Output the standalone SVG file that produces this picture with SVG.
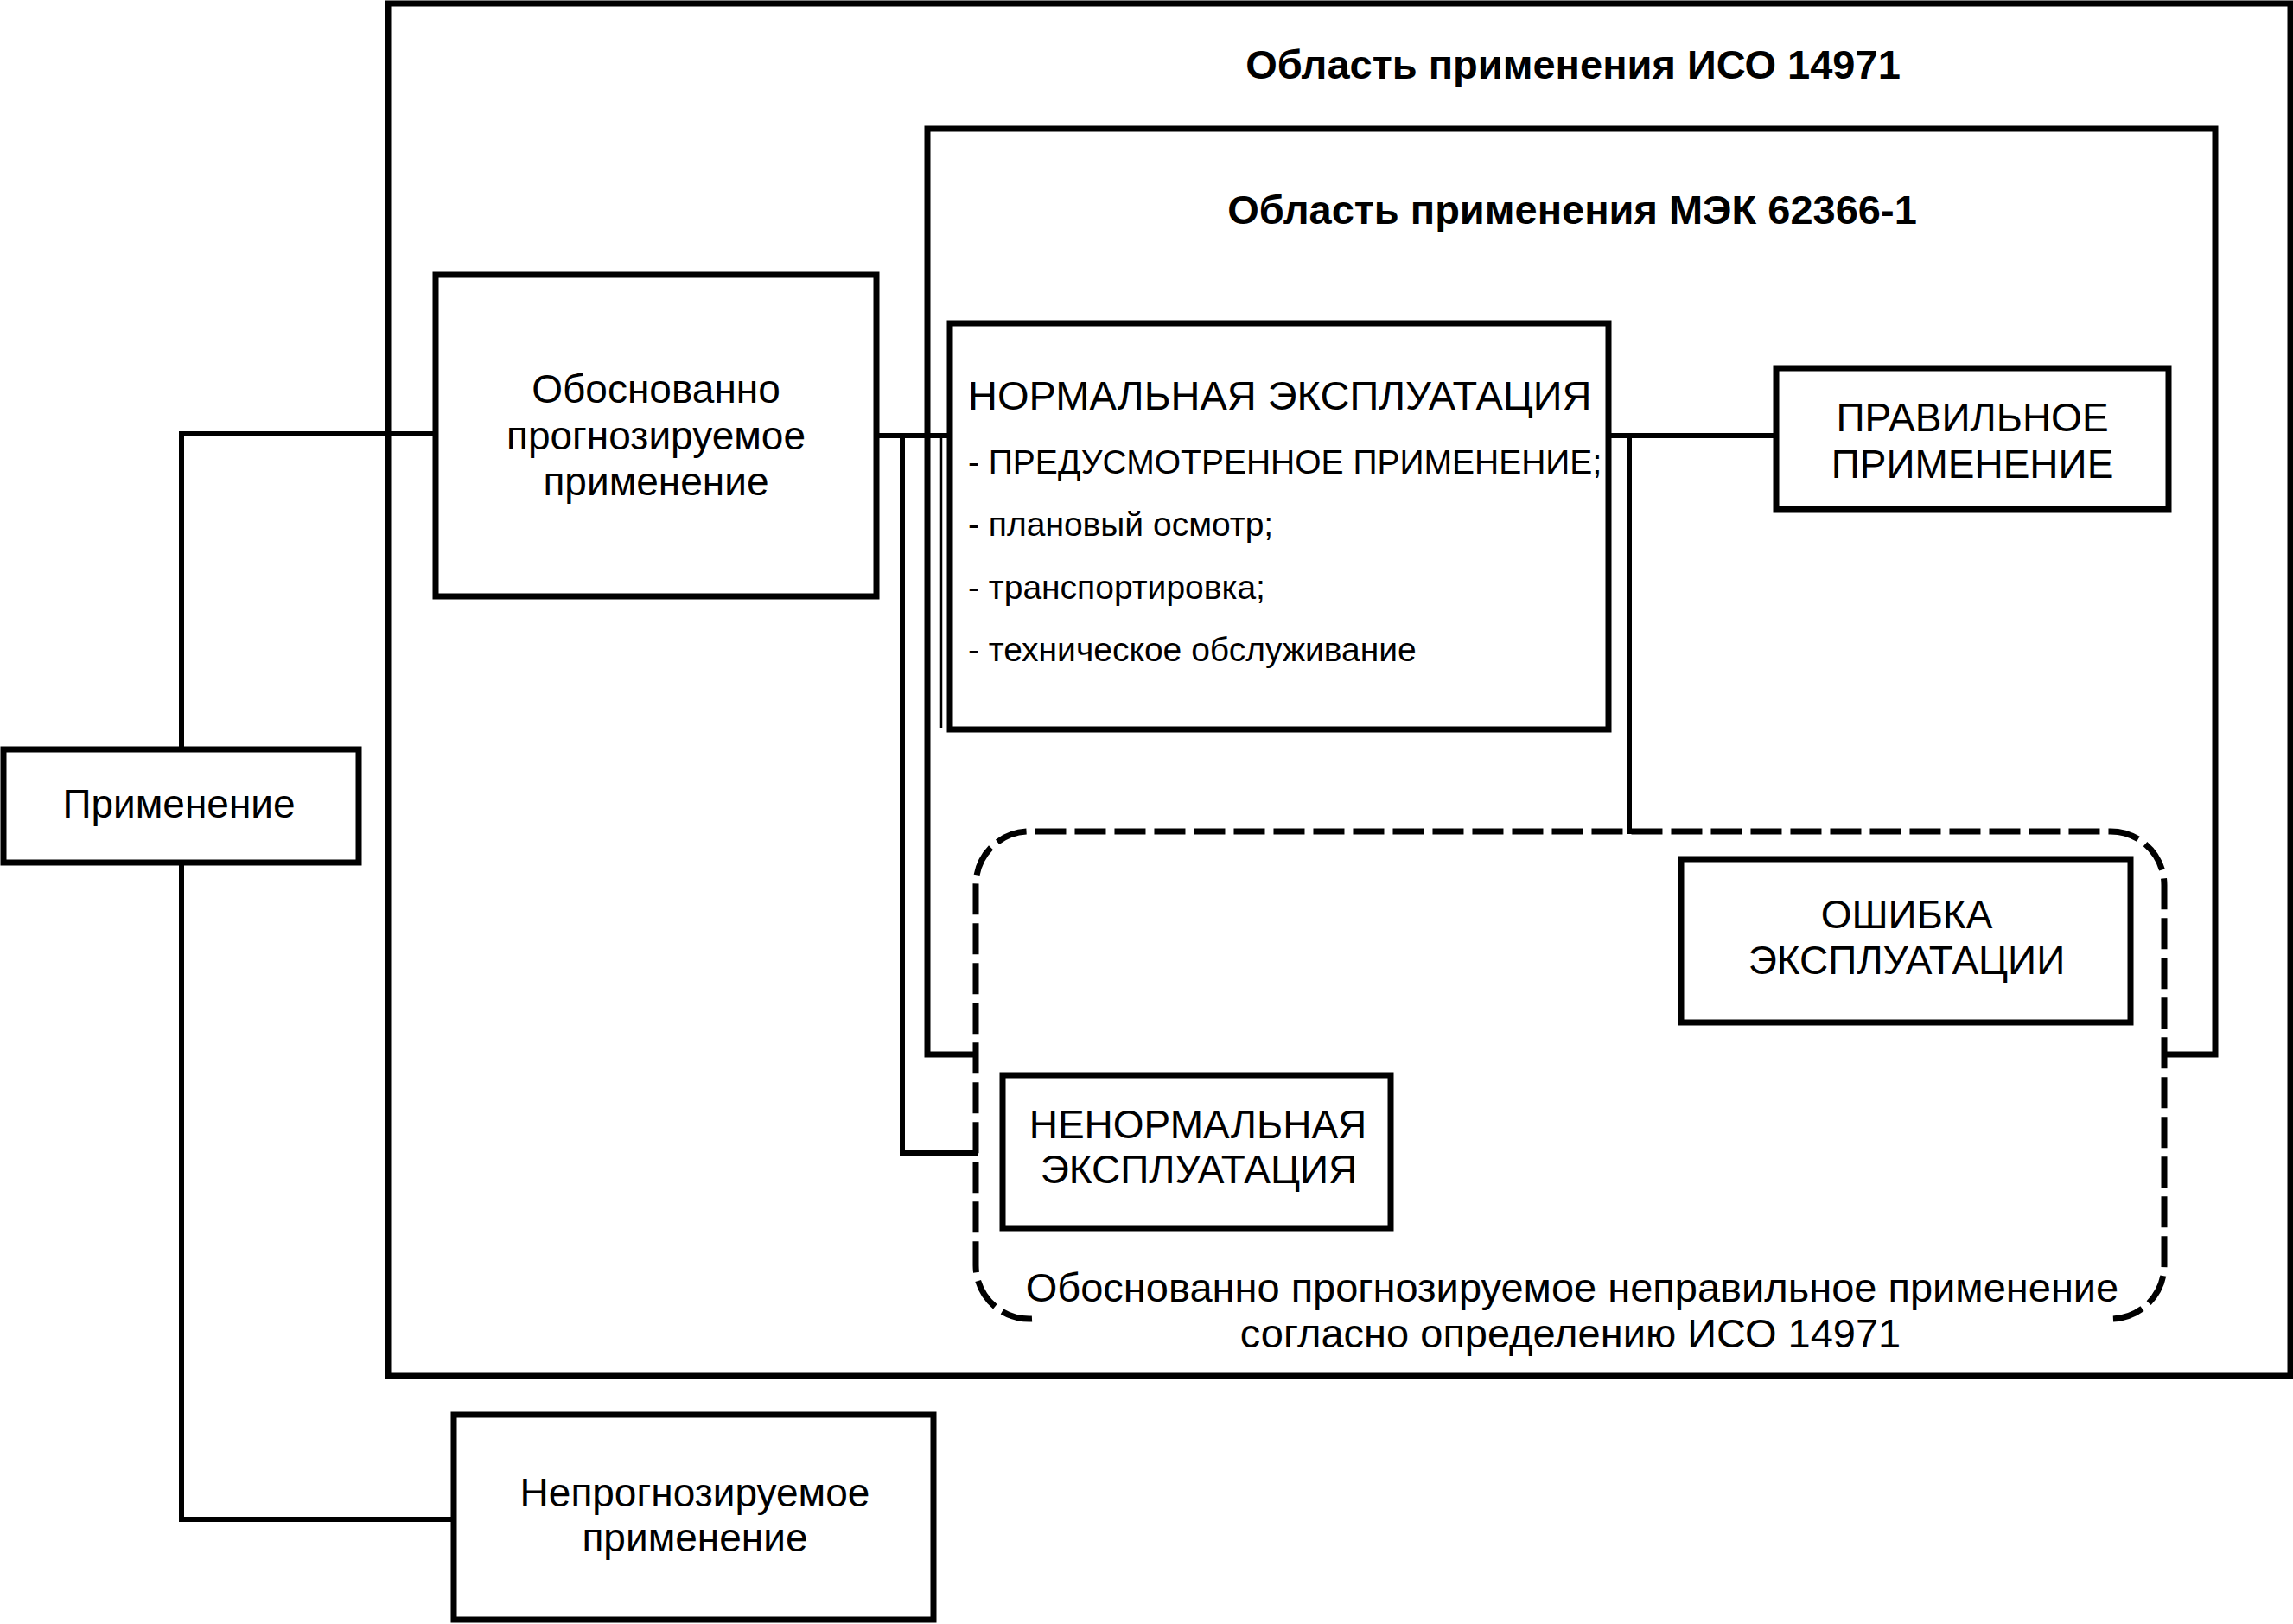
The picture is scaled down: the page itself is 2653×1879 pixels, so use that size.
<svg xmlns="http://www.w3.org/2000/svg" width="2653" height="1879" viewBox="0 0 2653 1879">
<style>
.box{fill:#fff;stroke:#000;stroke-width:7}
.frame{fill:none;stroke:#000;stroke-width:7}
.ln{fill:none;stroke:#000;stroke-width:6;stroke-linecap:square}
.thin{fill:none;stroke:#000;stroke-width:2.5}
.dash{fill:none;stroke:#000;stroke-width:7;stroke-dasharray:36 10}
text{font-family:"Liberation Sans",Arial,sans-serif;fill:#000}
.t{font-size:46px;text-anchor:middle}
.tm{font-size:47px;text-anchor:middle}
.tb{font-size:47px;font-weight:bold;text-anchor:middle}
.tl{font-size:39px}
</style>
<rect width="2653" height="1879" fill="#fff"/>
<g id="iso-scope">
<rect class="frame" x="449" y="4" width="2201" height="1588"/>
<text class="tb" x="1820" y="91">Область применения ИСО 14971</text>
</g>
<g id="iec-scope">
<path class="frame" d="M1129 1220 H1073 V149 H2563 V1220 H2506"/>
<text class="tb" x="1819" y="259">Область применения МЭК 62366-1</text>
</g>
<g id="connectors">
<path class="ln" d="M210 867 V502 H504"/>
<path class="ln" d="M210 998 V1758 H525"/>
<path class="ln" d="M1014 504 H1099"/>
<path class="ln" d="M1044 504 V1334 H1129"/>
<path class="thin" d="M1089 504 V842"/>
<path class="ln" d="M1861 504 H2055"/>
<path class="ln" d="M1885 504 V962"/>
</g>
<g id="misuse">
<path class="dash" d="M1194 1526 A62 62 0 0 1 1129 1464 V1024 A62 62 0 0 1 1191 962 H2442 A62 62 0 0 1 2504 1024 V1464 A62 62 0 0 1 2440 1526"/>
<text class="tm" x="1819" y="1506">Обоснованно прогнозируемое неправильное применение</text>
<text class="tm" x="1817" y="1559">согласно определению ИСО 14971</text>
</g>
<g id="primenenie">
<rect class="box" x="4" y="867" width="411" height="131"/>
<text class="t" x="207" y="946">Применение</text>
</g>
<g id="foreseeable">
<rect class="box" x="504" y="318" width="510" height="372"/>
<text class="t" x="759" y="466">Обоснованно</text>
<text class="t" x="759" y="520">прогнозируемое</text>
<text class="t" x="759" y="573">применение</text>
</g>
<g id="unforeseeable">
<rect class="box" x="525" y="1637" width="555" height="237"/>
<text class="t" x="804" y="1743">Непрогнозируемое</text>
<text class="t" x="804" y="1795">применение</text>
</g>
<g id="normal-use">
<rect class="box" x="1099" y="374" width="762" height="470"/>
<text x="1120" y="474" font-size="47">НОРМАЛЬНАЯ ЭКСПЛУАТАЦИЯ</text>
<text class="tl" x="1120" y="548">- ПРЕДУСМОТРЕННОЕ ПРИМЕНЕНИЕ;</text>
<text class="tl" x="1120" y="620">- плановый осмотр;</text>
<text class="tl" x="1120" y="693">- транспортировка;</text>
<text class="tl" x="1120" y="765">- техническое обслуживание</text>
</g>
<g id="correct-use">
<rect class="box" x="2055" y="426" width="454" height="163"/>
<text class="t" x="2282" y="499">ПРАВИЛЬНОЕ</text>
<text class="t" x="2282" y="553">ПРИМЕНЕНИЕ</text>
</g>
<g id="use-error">
<rect class="box" x="1945" y="994" width="520" height="189"/>
<text class="t" x="2206" y="1074">ОШИБКА</text>
<text class="t" x="2206" y="1127">ЭКСПЛУАТАЦИИ</text>
</g>
<g id="abnormal-use">
<rect class="box" x="1160" y="1244" width="449" height="177"/>
<text class="t" x="1386" y="1317">НЕНОРМАЛЬНАЯ</text>
<text class="t" x="1387" y="1369">ЭКСПЛУАТАЦИЯ</text>
</g>
</svg>
